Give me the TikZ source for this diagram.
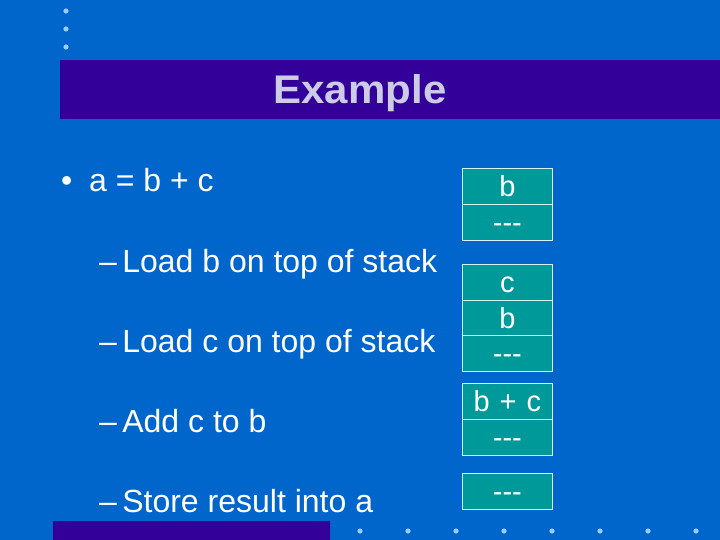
\documentclass[tikz,border=0pt]{standalone}
\usepackage{fontspec}
\setmainfont{Liberation Sans}
\definecolor{bg}{HTML}{0066CC}
\definecolor{titlebar}{HTML}{330099}
\definecolor{titletext}{HTML}{CCCCE6}
\definecolor{cell}{HTML}{009999}
\definecolor{dotc}{HTML}{99CCFF}
\tikzset{
  body/.style={anchor=base west, inner sep=0pt, text=white, font=\fontsize{32}{38}\selectfont},
  stackcell/.style={draw=white!85!cyan, line width=0.8pt, fill=cell, minimum width=90pt, minimum height=36pt, inner sep=0pt, text height=21pt, text depth=0pt, text=white, font=\fontsize{29}{32}\selectfont, anchor=north west},
  deco/.style={fill=dotc, draw=none},
}
\begin{document}
\begin{tikzpicture}[x=1pt,y=-1pt]
\useasboundingbox (0,0) rectangle (720,540);
\fill[bg] (0,0) rectangle (720,540);
% top-left dots
\foreach \yy in {11,29,47} \fill[deco] (66,\yy) circle (2.6);
% title bar
\fill[titlebar] (60,60) rectangle (720,119);
\node[anchor=base, inner sep=0pt, text=titletext, font=\fontsize{40}{46}\selectfont\bfseries] (title) at (360,104) {\scalebox{1.05}[1]{Example}};
% bottom bar and dots
\fill[titlebar] (53,521) rectangle (330,540);
\foreach \xx in {360,408,456,504,552,600,648,696} \fill[deco] (\xx,531) circle (2.6);
% body text
\node[body] (bul) at (61,192) {•};
\node[body] (l0) at (89,192) {a = b + c};
\node[body] (l1) at (99,272) {–\,Load b on top of stack};
\node[body] (l2) at (99,352) {–\,Load c on top of stack};
\node[body] (l3) at (99,432) {–\,Add c to b};
\node[body] (l4) at (99,512) {–\,Store result into a};
% stacks
\node[stackcell] (s1a) at (462,168) {b};
\node[stackcell] (s1b) at (462,204) {-{}-{}-};
\node[stackcell] (s2a) at (462,264) {c};
\node[stackcell] (s2b) at (462,300) {b};
\node[stackcell] (s2c) at (462,335) {-{}-{}-};
\node[stackcell] (s3a) at (462,383) {b\kern2pt\ +\ \kern2pt c};
\node[stackcell] (s3b) at (462,419) {-{}-{}-};
\node[stackcell] (s4a) at (462,473) {-{}-{}-};
\end{tikzpicture}
\end{document}
